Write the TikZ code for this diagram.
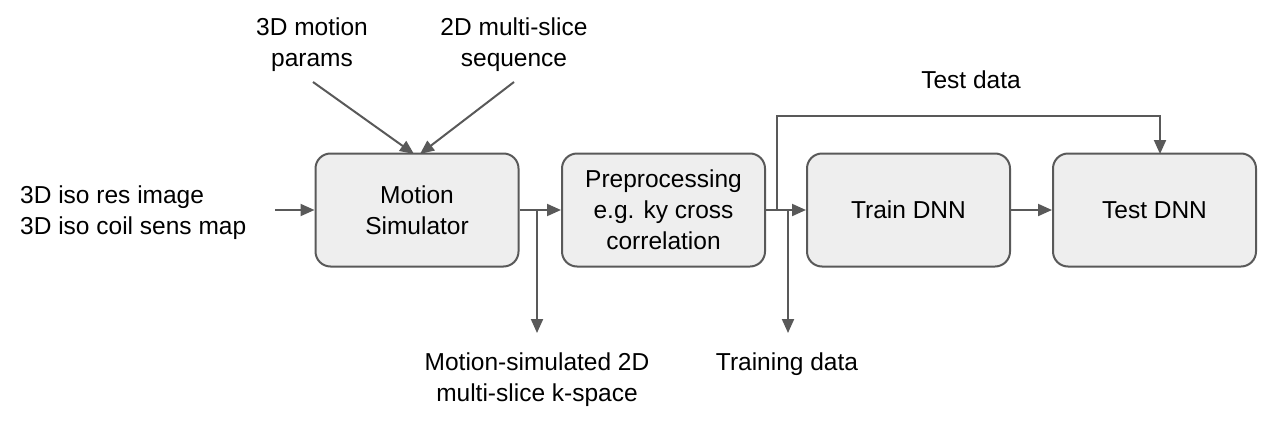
\documentclass[tikz,border=0pt]{standalone}
\usepackage{fontspec}
\setmainfont{Liberation Sans}
\usetikzlibrary{arrows.meta}
\definecolor{edge}{HTML}{595959}
\definecolor{boxfill}{HTML}{EEEEEE}
\begin{document}
\begin{tikzpicture}[x=1pt,y=-1pt,
  every node/.style={font=\fontsize{24.5}{31}\selectfont, text=black},
  procbox/.style={draw=edge, fill=boxfill, line width=2pt, rounded corners=15pt,
    minimum width=203pt, minimum height=113pt, align=center, inner sep=0pt},
  lbl/.style={align=center, inner sep=0pt},
  arr/.style={draw=edge, line width=2pt, -{Triangle[length=14pt,width=12pt]}},
  ln/.style={draw=edge, line width=2pt}]
\useasboundingbox (0,0) rectangle (1268,423);
\node[procbox] (ms) at (417,210) {Motion\\Simulator};
\node[procbox] (pp) at (663.5,210) {Preprocessing\\e.g. ky cross\\correlation};
\node[procbox] (tr) at (908.5,210) {Train DNN};
\node[procbox] (te) at (1154.5,210) {Test DNN};

\node[lbl] (mp) at (312,45) {3D motion\\params};
\node[lbl] (ss) at (514,45) {2D multi-slice\\sequence};
\node[lbl, anchor=west, align=left] (iso) at (20,213) {3D iso res image\\3D iso coil sens map};
\node[lbl] (msk) at (537,380) {Motion-simulated 2D\\multi-slice k-space};
\node[lbl] (trd) at (787,364) {Training data};
\node[lbl] (ted) at (971,80) {Test data};

\coordinate (inS) at (275,210);
\coordinate (mpS) at (313,82);
\coordinate (ssS) at (514,82);
\coordinate (mpE) at (414,154);
\coordinate (ssE) at (420,154);
\coordinate (b1) at (537,210);
\coordinate (b1E) at (537,333);
\coordinate (b2) at (777,210);
\coordinate (b2T) at (777,116);
\coordinate (teT) at (1160,116);
\coordinate (teE) at (1160,154);
\coordinate (b3) at (788,210);
\coordinate (b3E) at (788,333);

\draw[arr] (inS) -- (ms.west);
\draw[arr] (mpS) -- (mpE);
\draw[arr] (ssS) -- (ssE);
\draw[arr] (ms.east) -- (pp.west);
\draw[arr] (b1) -- (b1E);
\draw[arr] (pp.east) -- (tr.west);
\draw[arr] (b2) -- (b2T) -- (teT) -- (teE);
\draw[arr] (b3) -- (b3E);
\draw[arr] (tr.east) -- (te.west);
\end{tikzpicture}
\end{document}
